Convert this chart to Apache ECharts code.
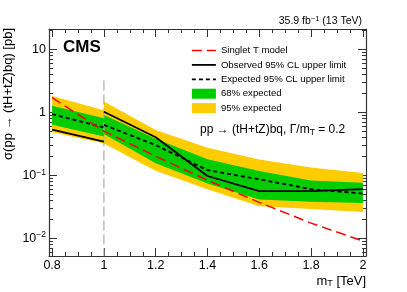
<!DOCTYPE html>
<html><head><meta charset="utf-8">
<script src="https://cdn.jsdelivr.net/npm/echarts@6/dist/echarts.min.js"></script>
<style>html,body{margin:0;padding:0;background:#fff}#c{width:407px;height:292px}</style>
</head><body><div id="c"></div>
<script>
// ---- data ----
const massL = [0.8, 1.0];
const obsL = [0.53, 0.34];
const expL = [0.93, 0.575];
const g68HiL = [1.27, 0.80];
const g68LoL = [0.63, 0.41];
const g95HiL = [1.81, 1.08];
const g95LoL = [0.48, 0.318];

const massR = [1.0, 1.2, 1.4, 1.6, 1.8, 2.0];
const obsR = [1.02, 0.40, 0.097, 0.056, 0.056, 0.060];
const expR = [0.63, 0.30, 0.12, 0.086, 0.060, 0.051];
const g68HiR = [0.90, 0.38, 0.179, 0.117, 0.082, 0.076];
const g68LoR = [0.45, 0.155, 0.074, 0.041, 0.038, 0.036];
const g95HiR = [1.48, 0.52, 0.273, 0.178, 0.132, 0.108];
const g95LoR = [0.32, 0.118, 0.060, 0.032, 0.029, 0.026];

const massTh = [0.8, 1.0, 1.2, 1.4, 1.6, 1.8, 2.0];
const theory = [1.70, 0.50, 0.20, 0.083, 0.037, 0.0173, 0.009];

const vLineX = [1.0, 1.0];
const vLineY = [3.2, 0.0052];

const xMajor = [0.8, 1.0, 1.2, 1.4, 1.6, 1.8, 2.0];
const xMinor = [0.8, 0.85, 0.9, 0.95, 1.0, 1.05, 1.1, 1.15, 1.2, 1.25, 1.3, 1.35, 1.4, 1.45, 1.5, 1.55, 1.6, 1.65, 1.7, 1.75, 1.8, 1.85, 1.9, 1.95, 2.0];
const yMajor = [0.01, 0.1, 1, 10];
const yMinor = [0.006, 0.007, 0.008, 0.009, 0.02, 0.03, 0.04, 0.05, 0.06, 0.07, 0.08, 0.09,
  0.2, 0.3, 0.4, 0.5, 0.6, 0.7, 0.8, 0.9, 2, 3, 4, 5, 6, 7, 8, 9, 20];

const X_MIN = 0.788, X_MAX = 2.012, Y_MIN = 0.0052, Y_MAX = 21;

function zip(xs, ys) { return xs.map((x, i) => [x, ys[i]]); }

const seg68 = [{x: massL, hi: g68HiL, lo: g68LoL}, {x: massR, hi: g68HiR, lo: g68LoR}];
const seg95 = [{x: massL, hi: g95HiL, lo: g95LoL}, {x: massR, hi: g95HiR, lo: g95LoR}];

function bandRender(segs, color) {
  return function (params, api) {
    const s = segs[params.dataIndex];
    const pts = [];
    for (let i = 0; i < s.x.length; i++) pts.push(api.coord([s.x[i], s.hi[i]]));
    for (let i = s.x.length - 1; i >= 0; i--) pts.push(api.coord([s.x[i], s.lo[i]]));
    return {type: 'polygon', shape: {points: pts}, style: {fill: color, stroke: null}};
  };
}

const FONT = 'Liberation Sans, Arial, Helvetica, sans-serif';
const FRAME = '#333';

function xAxisDef(pos, vals, len, main) {
  return {
    type: 'value', min: X_MIN, max: X_MAX, position: pos,
    axisLine: {show: main, lineStyle: {color: FRAME, width: 1.2}},
    axisTick: {show: true, inside: true, length: len, customValues: vals, lineStyle: {color: FRAME, width: 1}},
    axisLabel: (main && pos === 'bottom') ? {
      show: true, customValues: xMajor, margin: 3, color: '#000', fontSize: 12.5, fontFamily: FONT,
      formatter: v => String(+(+v).toFixed(2))
    } : {show: false},
    splitLine: {show: false}
  };
}
function yAxisDef(pos, vals, len, main) {
  return {
    type: 'log', logBase: 10, min: Y_MIN, max: Y_MAX, position: pos,
    axisLine: {show: main, lineStyle: {color: FRAME, width: 1.2}},
    axisTick: {show: true, inside: true, length: len, customValues: vals, lineStyle: {color: FRAME, width: 1}},
    axisLabel: (main && pos === 'left') ? {
      show: true, customValues: yMajor, margin: 3, color: '#000', fontSize: 12.5, fontFamily: FONT,
      formatter: function (v) {
        const e = Math.round(Math.log10(v));
        if (e === 1) return '10';
        if (e === 0) return '1';
        return '10{sup|\u2212' + (-e) + '}';
      },
      rich: {sup: {fontSize: 8.5, fontFamily: FONT, color: '#000', verticalAlign: 'top', padding: [0, 0, 6, 0]}}
    } : {show: false},
    splitLine: {show: false}
  };
}

const noSym = {opacity: 0};
const chart = echarts.init(document.getElementById('c'), null, {renderer: 'canvas'});
chart.setOption({
  animation: false,
  backgroundColor: '#fff',
  grid: {left: 49, right: 41, top: 29, bottom: 36, containLabel: false},
  xAxis: [
    xAxisDef('bottom', xMajor, 8, true),
    xAxisDef('bottom', xMinor, 4, false),
    xAxisDef('top', xMajor, 8, true),
    xAxisDef('top', xMinor, 4, false)
  ],
  yAxis: [
    yAxisDef('left', yMajor, 8, true),
    yAxisDef('left', yMinor, 4, false),
    yAxisDef('right', yMajor, 8, true),
    yAxisDef('right', yMinor, 4, false)
  ],
  legend: {
    orient: 'vertical', left: 186, top: 39.5, itemWidth: 24, itemHeight: 10, itemGap: 2.4,
    selectedMode: false,
    textStyle: {fontSize: 9.6, fontFamily: FONT, color: '#000', lineHeight: 12},
    data: [
      {name: 'Singlet T model', itemStyle: noSym, lineStyle: {color: '#ff0000', width: 1.5, type: [10, 5]}},
      {name: 'Observed 95% CL upper limit', itemStyle: noSym, lineStyle: {color: '#000', width: 1.8, type: 'solid'}},
      {name: 'Expected 95% CL upper limit', itemStyle: noSym, lineStyle: {color: '#000', width: 1.8, type: [4, 3]}},
      {name: '68% expected', icon: 'rect'}, {name: '95% expected', icon: 'rect'}
    ]
  },
  series: [
    {type: 'custom', name: '95% expected', renderItem: bandRender(seg95, '#ffcc00'),
     data: seg95.map(s => [s.x[0], s.hi[0]]), encode: {x: 0, y: 1}, itemStyle: {color: '#ffcc00'}, clip: true, z: 1},
    {type: 'custom', name: '68% expected', renderItem: bandRender(seg68, '#00cc00'),
     data: seg68.map(s => [s.x[0], s.hi[0]]), encode: {x: 0, y: 1}, itemStyle: {color: '#00cc00'}, clip: true, z: 2},
    {type: 'line', name: 'vline', data: zip(vLineX, vLineY), symbol: 'none', silent: true,
     lineStyle: {color: '#aaaaaa', width: 1.2, type: [10, 4]}, z: 3},
    {type: 'line', name: 'Expected 95% CL upper limit', data: zip(massL, expL), symbol: 'none',
     lineStyle: {color: '#000', width: 1.8, type: [4, 3]}, itemStyle: {color: '#000'}, z: 4},
    {type: 'line', name: 'Expected 95% CL upper limit', data: zip(massR, expR), symbol: 'none',
     lineStyle: {color: '#000', width: 1.8, type: [4, 3]}, itemStyle: {color: '#000'}, z: 4},
    {type: 'line', name: 'Observed 95% CL upper limit', data: zip(massL, obsL), symbol: 'none',
     lineStyle: {color: '#000', width: 1.8}, itemStyle: {color: '#000'}, z: 5},
    {type: 'line', name: 'Observed 95% CL upper limit', data: zip(massR, obsR), symbol: 'none',
     lineStyle: {color: '#000', width: 1.8}, itemStyle: {color: '#000'}, z: 5},
    {type: 'line', name: 'Singlet T model', data: zip(massTh, theory), symbol: 'none', smooth: false,
     lineStyle: {color: '#ff0000', width: 1.5, type: [10, 5]}, itemStyle: {color: '#ff0000'}, z: 6}
  ],
  graphic: [
    {type: 'text', x: 63, y: 47, style: {text: 'CMS', font: 'bold 17px ' + FONT, fill: '#000', align: 'left', verticalAlign: 'middle', textAlign: 'left', textVerticalAlign: 'middle'}},
    {type: 'text', x: 362, y: 21, style: {text: '35.9 fb{sup|\u22121} (13 TeV)', fontSize: 10.5, fontFamily: FONT, fill: '#000', align: 'right', verticalAlign: 'middle', textAlign: 'right', textVerticalAlign: 'middle',
      rich: {sup: {fontSize: 7.5, fontFamily: FONT, fill: '#000', verticalAlign: 'top', padding: [0, 0, 4, 0]}}}},
    {type: 'text', x: 200, y: 130, style: {text: 'pp \u2192 (tH+tZ)bq, \u0393/m{sub|T} = 0.2', fontSize: 12, fontFamily: FONT, fill: '#000', align: 'left', verticalAlign: 'middle', textAlign: 'left', textVerticalAlign: 'middle',
      rich: {sub: {fontSize: 8.5, fontFamily: FONT, fill: '#000', verticalAlign: 'bottom', padding: [5, 0, 0, 0]}}}},
    {type: 'text', x: 366, y: 281, style: {text: 'm{sub|T} [TeV]', fontSize: 13, fontFamily: FONT, fill: '#000', align: 'right', verticalAlign: 'middle', textAlign: 'right', textVerticalAlign: 'middle',
      rich: {sub: {fontSize: 9, fontFamily: FONT, fill: '#000', verticalAlign: 'bottom', padding: [5, 0, 0, 0]}}}},
    {type: 'text', x: 8, y: 28, rotation: Math.PI / 2, style: {text: '\u03c3(pp \u2192 (tH+tZ)bq) [pb]', fontSize: 13, fontFamily: FONT, fill: '#000', align: 'right', verticalAlign: 'middle', textAlign: 'right', textVerticalAlign: 'middle'}}
  ]
});
</script></body></html>
